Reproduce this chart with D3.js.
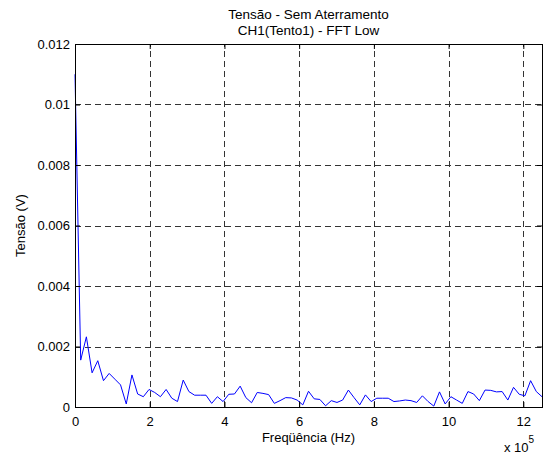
<!DOCTYPE html>
<html>
<head>
<meta charset="utf-8">
<script src="https://cdn.jsdelivr.net/npm/d3@7"></script>
<style>
  html, body { margin: 0; padding: 0; background: #fff; }
  svg text { font-family: "Liberation Sans", Arial, Helvetica, sans-serif; fill: #000; }
</style>
</head>
<body>
<svg id="chart" width="549" height="455"></svg>
<script>
// FFT magnitude spectrum, channel 1, without grounding
const titleLines = ["Tensão - Sem Aterramento", "CH1(Tento1) - FFT Low"];
const xLabel = "Freqüência (Hz)";
const yLabel = "Tensão (V)";

// spectral bin spacing (Hz) and bin magnitudes (V)
const binWidth = 1.25e6 / 82;
const magnitude = [
  0.0110, 0.00155, 0.00232, 0.00113, 0.00153, 0.00087, 0.00111, 0.00092, 0.00073, 0.00010,
  0.00106, 0.00043, 0.00034, 0.00058, 0.00048, 0.00034, 0.00058, 0.00029, 0.00018, 0.00089,
  0.00051, 0.00039, 0.00039, 0.00039, 0.00012, 0.00034, 0.00018, 0.00042, 0.00043, 0.00069,
  0.00031, 0.00014, 0.00048, 0.00045, 0.00041, 0.00012, 0.00021, 0.00031, 0.00030, 0.00023,
  0.00007, 0.00052, 0.00027, 0.00025, 0.00004, 0.00021, 0.00015, 0.00023, 0.00056, 0.00031,
  0.00007, 0.00040, 0.00018, 0.00029, 0.00029, 0.00029, 0.00018, 0.00020, 0.00023, 0.00021,
  0.00015, 0.00037, 0.00018, 0.00003, 0.00050, 0.00010, 0.00034, 0.00023, 0.00012, 0.00051,
  0.00043, 0.00021, 0.00056, 0.00055, 0.00050, 0.00051, 0.00023, 0.00065, 0.00042, 0.00037,
  0.00087, 0.00051, 0.00034
];

// axis ticks
const xTickValues = [0, 2e5, 4e5, 6e5, 8e5, 10e5, 12e5];
const xTickLabels = ["0", "2", "4", "6", "8", "10", "12"];
const xExponent = "5";
const yTickValues = [0, 0.002, 0.004, 0.006, 0.008, 0.010, 0.012];
const yTickLabels = ["0", "0.002", "0.004", "0.006", "0.008", "0.01", "0.012"];

const xDomain = [0, 1.25e6];
const yDomain = [0, 0.012];

const svg = d3.select("#chart");
const plot = { left: 75, right: 542, top: 44, bottom: 407 };

const x = d3.scaleLinear().domain(xDomain).range([plot.left, plot.right]);
const y = d3.scaleLinear().domain(yDomain).range([plot.bottom, plot.top]);
const crisp = v => Math.round(v) + 0.5;

// white axes background
svg.append("rect")
  .attr("x", plot.left).attr("y", plot.top)
  .attr("width", plot.right - plot.left).attr("height", plot.bottom - plot.top)
  .attr("fill", "#fff");

// dashed grid
const grid = svg.append("g").attr("stroke", "#333").attr("stroke-width", 1)
  .attr("stroke-dasharray", "6,4").attr("fill", "none");
grid.selectAll("line.gx").data(xTickValues.slice(1)).join("line")
  .attr("class", "gx")
  .attr("x1", d => crisp(x(d))).attr("x2", d => crisp(x(d)))
  .attr("y1", plot.bottom).attr("y2", plot.top);
grid.selectAll("line.gy").data(yTickValues.slice(1, -1)).join("line")
  .attr("class", "gy")
  .attr("x1", plot.left).attr("x2", plot.right)
  .attr("y1", d => crisp(y(d))).attr("y2", d => crisp(y(d)));

// spectrum line
const line = d3.line()
  .x((d, i) => x(i * binWidth))
  .y(d => y(d));
svg.append("path")
  .datum(magnitude)
  .attr("d", line)
  .attr("fill", "none")
  .attr("stroke", "#0000ff")
  .attr("stroke-width", 1);

// axes: ticks point inward, drawn on all four sides
const tickLen = 5;
const xAxisBottom = d3.axisBottom(x).tickValues(xTickValues)
  .tickSizeInner(-tickLen).tickSizeOuter(0)
  .tickFormat((d, i) => xTickLabels[i]).tickPadding(10);
const xAxisTop = d3.axisTop(x).tickValues(xTickValues)
  .tickSizeInner(-tickLen).tickSizeOuter(0).tickFormat("");
const yAxisLeft = d3.axisLeft(y).tickValues(yTickValues)
  .tickSizeInner(-tickLen).tickSizeOuter(0)
  .tickFormat((d, i) => yTickLabels[i]).tickPadding(5);
const yAxisRight = d3.axisRight(y).tickValues(yTickValues)
  .tickSizeInner(-tickLen).tickSizeOuter(0).tickFormat("");

function styleAxis(g) {
  g.select(".domain").remove();
  g.selectAll(".tick line").attr("stroke", "#000");
  g.selectAll(".tick text").attr("font-size", 13).attr("font-family", null);
}

svg.append("g").attr("transform", `translate(0,${plot.bottom})`).call(xAxisBottom).call(styleAxis);
svg.append("g").attr("transform", `translate(0,${plot.top})`).call(xAxisTop).call(styleAxis);
svg.append("g").attr("transform", `translate(${plot.left},0)`).call(yAxisLeft).call(styleAxis);
svg.append("g").attr("transform", `translate(${plot.right},0)`).call(yAxisRight).call(styleAxis);

// axes box
svg.append("rect")
  .attr("x", plot.left + 0.5).attr("y", plot.top + 0.5)
  .attr("width", plot.right - plot.left).attr("height", plot.bottom - plot.top)
  .attr("fill", "none").attr("stroke", "#000").attr("stroke-width", 1);

// title
const cx = (plot.left + plot.right) / 2;
svg.append("g").selectAll("text").data(titleLines).join("text")
  .attr("x", cx).attr("y", (d, i) => 19 + i * 16)
  .attr("text-anchor", "middle").attr("font-size", 13.5)
  .text(d => d);

// axis labels
svg.append("text")
  .attr("x", cx).attr("y", 442)
  .attr("text-anchor", "middle").attr("font-size", 13)
  .text(xLabel);
svg.append("text")
  .attr("transform", `translate(25,${(plot.top + plot.bottom) / 2}) rotate(-90)`)
  .attr("text-anchor", "middle").attr("font-size", 13)
  .text(yLabel);

// exponent multiplier for the x axis
const mult = svg.append("text").attr("x", 504).attr("y", 452).attr("font-size", 13);
mult.append("tspan").text("x 10");
mult.append("tspan").attr("dy", -9).attr("font-size", 10).text(xExponent);
</script>
</body>
</html>
